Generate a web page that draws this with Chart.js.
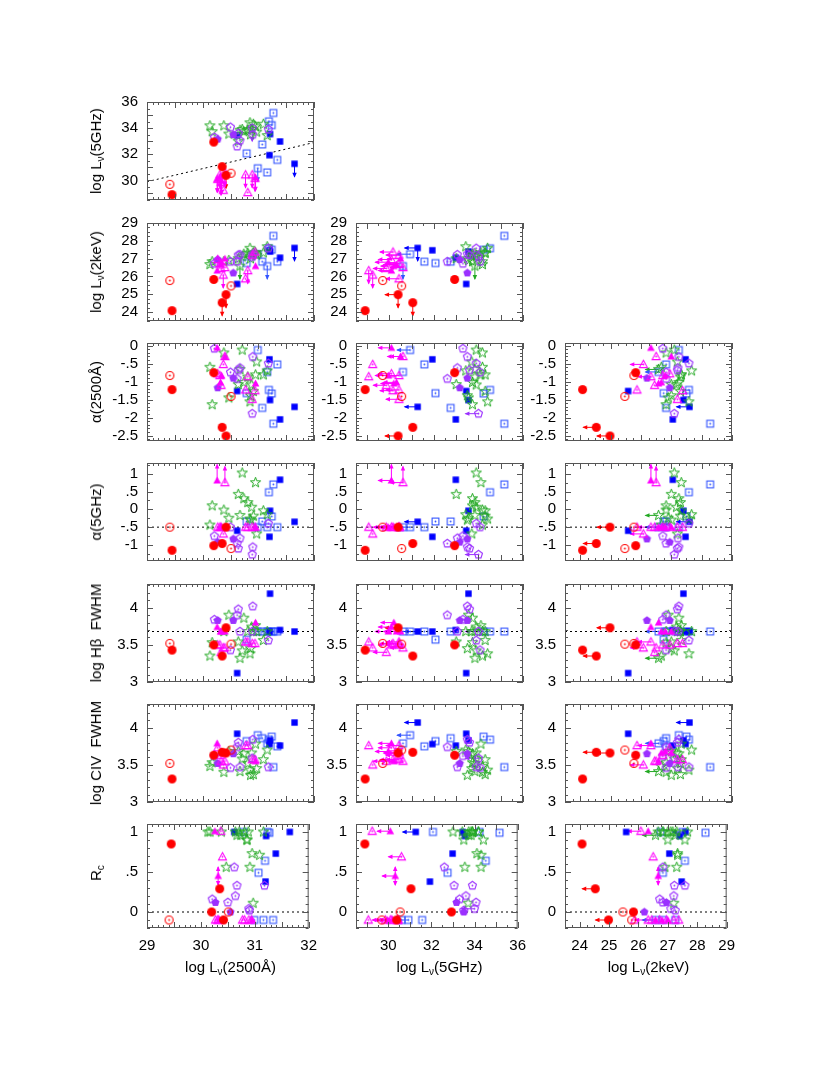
<!DOCTYPE html>
<html><head><meta charset="utf-8">
<script src="https://cdn.jsdelivr.net/npm/chart.js@4.4.0/dist/chart.umd.min.js"></script>
<style>
body{margin:0;background:#fff;width:830px;height:1075px;position:relative;overflow:hidden;font-family:"Liberation Sans",Arial,sans-serif;color:#000;}
canvas.pc{position:absolute;}
.yt{position:absolute;transform:translate(-50%,-50%) rotate(-90deg);white-space:nowrap;font-size:15px;line-height:16px;}
.xt{position:absolute;transform:translate(-50%,-50%);white-space:nowrap;font-size:15px;line-height:16px;}
sub{font-size:10px;vertical-align:-3px;line-height:0;}
</style></head>
<body>
<script>
// ---------------- DATA (one entry per object) ----------------
const cls = ['RF','RF','RF','RF','RO','RO',
 'MF','MF','MF','MF','MF',
 'MO','MO','MO','MO','MO','MO','MO','MO','MO',
 'PO','PO','PO','PO','PO','PO','PO','PO','PF','PF',
 'GS','GS','GS','GS','GS','GS','GS','GS','GS','GS','GS','GS','GS','GS','GS','GS','GS',
 'BO','BO','BO','BO','BO','BO','BO','BO',
 'BF','BF','BF','BF','BF'];
const L2500 = [29.45,30.20,30.35,30.42, 29.41,30.51,
 30.26,30.32,30.95,30.40,30.34,
 30.27,30.31,30.33,30.37,30.40,30.77,30.81,30.89,30.94,
 30.21,30.50,30.62,30.64,30.67,30.90,30.89,31.18, 30.27,30.55,
 30.13,30.17,30.38,30.47,30.64,30.67,30.71,30.74,30.81,30.85,30.88,30.91,30.95,30.97,30.86,31.09,31.16,
 30.79,30.99,31.07,31.16,31.19,31.24,31.27,31.34,
 30.62,31.20,31.21,31.39,31.65];
const L5 = [28.91,32.93,31.05,30.39, 29.70,30.55,
 30.09,30.32,30.20,30.50,29.95,
 30.09,30.43,29.86,29.25,30.61,30.43,29.07,30.43,30.16,
 33.30,34.07,32.60,33.60,33.05,33.50,34.00,33.90, 33.16,33.50,
 34.18,33.73,34.18,33.55,33.00,33.84,33.90,33.73,33.84,34.41,33.90,34.30,34.11,33.70,33.50,34.30,33.43,
 32.07,30.93,32.75,30.61,34.52,34.23,35.16,31.57,
 33.45,31.93,33.55,32.98,31.27];
const L2k = [24.08,25.83,24.53,24.98, 25.77,25.47,
 26.33,26.67,26.58,27.00,26.80,
 26.95,26.72,26.45,26.08,26.50,25.87,26.33,27.20,27.37,
 26.72,26.83,26.83,27.20,27.22,27.25,27.10,27.58, 26.95,26.20,
 26.67,26.83,26.83,26.90,27.00,26.58,27.10,27.25,27.30,27.58,27.17,27.30,27.33,27.20,27.00,27.33,27.67,
 26.75,27.25,26.83,26.58,27.58,27.50,28.28,26.83,
 25.58,27.47,27.40,27.05,27.60];
const a2500 = [-1.22,-0.75,-2.27,-2.51, -0.83,-1.41,
 -0.06,-1.02,-1.05,-0.30,-0.83,
 -0.78,-0.83,-1.10,-0.52,-0.30,-1.23,-0.86,-1.49,-1.25,
 -0.08,-0.74,-0.92,-0.68,-0.62,-0.31,-1.89,-0.49, -1.17,-0.90,
 -0.60,-1.64,-0.20,-1.45,-1.08,-0.66,-0.12,-1.02,-0.87,-1.56,-1.09,-1.27,-0.81,-0.45,-1.39,-0.81,-0.70,
 -1.32,-0.12,-1.73,-0.73,-1.23,-1.33,-2.17,-0.52,
 -1.26,-0.38,-1.51,-2.05,-1.70];
const a5 = [-1.15,-1.02,-0.96,-0.50, -0.50,-1.10,
 0.81,-0.50,-0.50,-0.50,-0.50,
 -0.50,-0.50,-0.50,-0.69,0.75,-0.50,-0.50,-0.50,-0.50,
 -0.75,-0.50,-0.96,-1.10,-0.81,-1.06,-1.27,-0.40, -0.92,-0.83,
 -0.44,0.10,-0.02,-0.25,0.42,-0.17,1.02,0.30,0.19,-0.27,0.06,-0.19,0.75,-0.69,-0.30,-0.04,-0.15,
 -0.34,-0.50,-0.34,-0.50,0.48,-0.20,0.70,-0.50,
 -0.60,-0.77,-0.04,0.83,-0.35];
const hb = [3.43,3.50,3.35,3.73, 3.52,3.51,
 3.74,3.68,3.80,3.68,3.68,
 3.50,3.50,3.40,3.46,3.46,3.54,3.54,3.52,3.52,
 3.84,3.43,3.90,3.98,3.68,4.02,3.68,3.56, 3.83,3.83,
 3.35,3.53,3.68,3.90,3.54,3.32,3.42,3.86,3.68,3.38,3.74,3.68,3.76,3.68,3.45,3.56,3.68,
 3.57,3.68,3.68,3.68,3.68,3.68,3.68,3.68,
 3.12,3.68,4.19,3.70,3.68];
const civ = [3.31,3.63,3.67,3.66, 3.52,3.70,
 3.79,3.66,3.55,3.66,3.68,
 3.73,3.63,3.55,3.50,3.55,3.76,3.76,3.57,3.57,
 3.62,3.46,3.74,3.80,3.47,3.84,3.59,3.47, 3.52,3.65,
 3.48,3.53,3.40,3.68,3.68,3.41,3.58,3.65,3.52,3.43,3.66,3.37,3.78,3.45,3.36,3.57,3.70,
 3.82,3.90,3.86,3.79,3.84,3.88,3.47,3.75,
 3.92,3.78,3.83,3.76,4.07];
const rc = [0.85,0.00,0.29,-0.10, -0.10,0.00,
 1.01,0.45,-0.10,-0.10,-0.10,
 -0.10,-0.10,-0.10,1.01,0.69,-0.10,-0.10,-0.10,-0.10,
 0.16,0.12,0.56,0.20,0.33,0.02,0.04,0.33, 0.12,0.00,
 1.00,1.00,1.00,0.56,1.00,0.96,1.00,0.96,1.00,0.90,1.00,0.56,0.73,0.11,0.90,0.71,1.00,
 1.00,-0.10,0.49,-0.10,0.64,1.00,0.99,-0.10,
 1.00,0.38,0.95,0.73,1.00];
// limit flags (1 = limit)
const L5lim = [0,0,0,1, 0,0, 1,1,1,1,1, 1,1,1,0,1,1,0,1,1, 0,0,0,0,0,0,1,0, 0,0,
 0,0,0,0,0,0,0,0,0,0,0,0,0,0,0,0,0, 0,1,0,0,0,0,0,0, 0,0,0,0,1];
const L2klim = [0,0,1,1, 0,0, 0,0,0,0,0, 0,0,0,1,0,0,1,0,0, 0,0,0,0,0,0,0,0, 0,0,
 0,0,0,0,0,1,0,0,0,0,0,0,0,0,0,0,0, 0,0,0,1,0,0,0,0, 0,0,0,0,1];
const a5low = [0,0,0,0, 0,0, 1,0,0,0,0, 0,0,0,0,1,0,0,0,0, 0,0,0,0,0,0,0,0, 0,0,
 0,0,0,0,0,0,0,0,0,0,0,0,0,0,0,0,0, 0,0,0,0,0,0,0,0, 0,0,0,0,0];
const rcBoth = [0,0,0,0, 0,0, 0,1,0,0,0, 0,0,0,0,0,0,0,0,0, 0,0,0,0,0,0,0,0, 0,0,
 0,0,0,0,0,0,0,0,0,0,0,0,0,0,0,0,0, 0,0,0,0,0,0,0,0, 0,0,0,0,0];
// reference lines
const refLineX = [29, 32], refLineY = [29.9, 32.9];   // L5GHz vs L2500 dividing line
const a5Ref = -0.5, hbRef = 3.68, rcRef = 0;
// axis ranges / tick labels
const rangeL2500 = [29, 32], ticksL2500 = 1;
const rangeL5 = [28.5, 36], ticksL5 = 2;
const rangeL2k = [23.5, 29], ticksL2k = 1;
const rangeA2500 = [-2.65, 0.075], ticksA2500 = 0.5;
const rangeA5 = [-1.45, 1.3], ticksA5 = 0.5;
const rangeFWHM = [3.0, 4.32], ticksFWHM = 0.5;
const rangeRc = [-0.2, 1.1], ticksRc = 0.5;

// ---------------- SETUP ----------------
const V = {L2500, L5, L2k, a2500, a5, hb, civ, rc};
const AX = {
 L2500:{r:rangeL2500, step:ticksL2500, major:0.5, minor:0.1},
 L5:{r:rangeL5, step:ticksL5, major:1, minor:0.5},
 L2k:{r:rangeL2k, step:ticksL2k, major:1, minor:0.25},
 a2500:{r:rangeA2500, step:ticksA2500, major:0.5, minor:0.1},
 a5:{r:rangeA5, step:ticksA5, major:0.5, minor:0.25},
 hb:{r:rangeFWHM, step:ticksFWHM, major:0.5, minor:0.1},
 civ:{r:rangeFWHM, step:ticksFWHM, major:0.5, minor:0.1},
 rc:{r:rangeRc, step:ticksRc, major:0.5, minor:0.1}
};
const HREF = {a5:a5Ref, hb:hbRef, rc:rcRef};
const UPPER = {L5:L5lim, L2k:L2klim};
const rowVars = ['L5','L2k','a2500','a5','hb','civ','rc'];
const colVars = ['L2500','L5','L2k'];
const rowTitles = ['log L<sub>ν</sub>(5GHz)','log L<sub>ν</sub>(2keV)','α(2500Å)','α(5GHz)','log Hβ&nbsp;&nbsp;FWHM','log CIV&nbsp;&nbsp;FWHM','R<sub>c</sub>'];
const colTitles = ['log L<sub>ν</sub>(2500Å)','log L<sub>ν</sub>(5GHz)','log L<sub>ν</sub>(2keV)'];

const ROW_TOP=[96,217,337,457,578,698,818], COL_LEFT=[147,356,565], PW=167, PH=110;
const PADL=62, PADT=12, PADR=12, PADB=12;

const COL = {RF:'#ff0000',RO:'#ff0000',MF:'#ff00ff',MO:'#ff00ff',PF:'#9b30ff',PO:'#9b30ff',GS:'#22a822',BF:'#0000ff',BO:'#3355ff'};
function shape(kind){
  const s=17, c=document.createElement('canvas'); c.width=s; c.height=s;
  const g=c.getContext('2d'), m=8.5, col=COL[kind];
  g.strokeStyle=col; g.fillStyle=col; g.lineWidth=1.1;
  const dot=()=>{g.beginPath();g.arc(m,m,0.9,0,7);g.fill();};
  const poly=(n,r,rot,inner)=>{g.beginPath();
    const k = inner? 2*n : n;
    for(let i=0;i<k;i++){const rr = inner && i%2 ? inner : r; const a=rot+i*2*Math.PI/k; const x=m+rr*Math.cos(a), y=m+rr*Math.sin(a); i?g.lineTo(x,y):g.moveTo(x,y);} g.closePath();};
  switch(kind){
    case 'RF': g.beginPath(); g.arc(m,m,4.5,0,7); g.fill(); break;
    case 'RO': g.beginPath(); g.arc(m,m,4,0,7); g.stroke(); dot(); break;
    case 'MF': g.beginPath(); g.moveTo(m,m-4); g.lineTo(m+3.8,m+3); g.lineTo(m-3.8,m+3); g.closePath(); g.fill(); break;
    case 'MO': g.beginPath(); g.moveTo(m,m-4.2); g.lineTo(m+4,m+3.1); g.lineTo(m-4,m+3.1); g.closePath(); g.stroke(); dot(); break;
    case 'PF': poly(5,4.3,-Math.PI/2); g.fill(); break;
    case 'PO': poly(5,4.2,-Math.PI/2); g.stroke(); dot(); break;
    case 'GS': g.lineWidth=1; poly(5,5.4,-Math.PI/2,2.2); g.stroke(); break;
    case 'BF': g.fillRect(m-3.2,m-3.2,6.4,6.4); break;
    case 'BO': g.strokeRect(m-3.4,m-3.4,6.8,6.8); dot(); break;
  }
  return c;
}
const ORDER = ['BO','BF','GS','PO','PF','MO','MF','RO','RF'];
const STY = {}; ORDER.forEach(k=>STY[k]=shape(k));

const fmt = v => { let s=(Math.round(v*100)/100).toString(); return s.replace(/^(-?)0\./,'$1.'); };

function arrow(ctx,x,y,dx,dy,col,L){
  const ex=x+dx*L, ey=y+dy*L;
  ctx.strokeStyle=col; ctx.fillStyle=col; ctx.lineWidth=1;
  ctx.beginPath(); ctx.moveTo(x,y); ctx.lineTo(ex,ey); ctx.stroke();
  const h=4, w=2.2;
  ctx.beginPath(); ctx.moveTo(ex+dx,ey+dy);
  ctx.lineTo(ex-dx*h+dy*w, ey-dy*h+dx*w); ctx.lineTo(ex-dx*h-dy*w, ey-dy*h-dx*w);
  ctx.closePath(); ctx.fill();
}

const deco = {
  id:'deco',
  beforeDatasetsDraw(chart,args,o){
    const ctx=chart.ctx, xs=chart.scales.x, ys=chart.scales.y, A=chart.chartArea;
    ctx.save(); ctx.beginPath(); ctx.rect(A.left,A.top,A.right-A.left,A.bottom-A.top); ctx.clip();
    const X=V[o.xv], Y=V[o.yv];
    for(let i=0;i<cls.length;i++){
      const px=xs.getPixelForValue(X[i]), py=ys.getPixelForValue(Y[i]), col=COL[cls[i]];
      if(UPPER[o.xv] && UPPER[o.xv][i]) arrow(ctx,px,py,-1,0,col,13);
      if(UPPER[o.yv] && UPPER[o.yv][i]) arrow(ctx,px,py,0,1,col,13);
      if(o.yv==='a5' && a5low[i]) arrow(ctx,px,py,0,-1,col,16);
      if(o.yv==='rc' && rcBoth[i]){arrow(ctx,px,py,0,-1,col,9);arrow(ctx,px,py,0,1,col,9);}
    }
    ctx.restore();
  },
  afterDraw(chart,args,o){
    const ctx=chart.ctx, xs=chart.scales.x, ys=chart.scales.y, A=chart.chartArea;
    ctx.save(); ctx.strokeStyle='#555'; ctx.lineWidth=1;
    ctx.strokeRect(A.left+0.5,A.top+0.5,A.right-A.left-1,A.bottom-A.top-1);
    const isMaj=(v,m)=>Math.abs(v/m-Math.round(v/m))<1e-6;
    ctx.beginPath();
    const xa=AX[o.xv];
    for(let k=Math.ceil(xa.r[0]/xa.minor-1e-6);k*xa.minor<=xa.r[1]+1e-9;k++){
      const v=k*xa.minor, p=Math.round(xs.getPixelForValue(v))+0.5, L=isMaj(v,xa.major)?6:3;
      ctx.moveTo(p,A.bottom); ctx.lineTo(p,A.bottom-L); ctx.moveTo(p,A.top); ctx.lineTo(p,A.top+L);
    }
    const ya=AX[o.yv];
    for(let k=Math.ceil(ya.r[0]/ya.minor-1e-6);k*ya.minor<=ya.r[1]+1e-9;k++){
      const v=k*ya.minor, p=Math.round(ys.getPixelForValue(v))+0.5, L=isMaj(v,ya.major)?6:3;
      ctx.moveTo(A.left,p); ctx.lineTo(A.left+L,p); ctx.moveTo(A.right,p); ctx.lineTo(A.right-L,p);
    }
    ctx.stroke(); ctx.restore();
  }
};

const FONT = {family:'"Liberation Sans", Arial, sans-serif', size:15};

for(let r=0;r<7;r++){
  for(let c=0;c<=Math.min(r,2);c++){
    const xv=colVars[c], yv=rowVars[r], bottom=(r===6);
    const XH = bottom?32:0;
    const cw=PADL+PW+PADR, ch=PADT+PH+XH+PADB;
    const cv=document.createElement('canvas'); cv.className='pc';
    cv.width=cw; cv.height=ch;
    cv.style.left=(COL_LEFT[c]-PADL)+'px'; cv.style.top=(ROW_TOP[r]-PADT)+'px';
    cv.style.width=cw+'px'; cv.style.height=ch+'px';
    document.body.appendChild(cv);
    const xa=AX[xv], ya=AX[yv];
    const datasets=[];
    if(HREF[yv]!==undefined){
      datasets.push({data:[{x:xa.r[0],y:HREF[yv]},{x:xa.r[1],y:HREF[yv]}],showLine:true,borderColor:'#000',borderWidth:1,borderDash:[2,3],pointRadius:0,order:5});
    }
    if(xv==='L2500' && yv==='L5'){
      datasets.push({data:[{x:refLineX[0],y:refLineY[0]},{x:refLineX[1],y:refLineY[1]}],showLine:true,borderColor:'#000',borderWidth:1,borderDash:[2,3],pointRadius:0,order:5});
    }
    ORDER.forEach((k,ki)=>{
      const pts=[];
      for(let i=0;i<cls.length;i++) if(cls[i]===k) pts.push({x:V[xv][i],y:V[yv][i]});
      datasets.push({label:k,data:pts,pointStyle:STY[k],pointRadius:5,showLine:false,order:-ki});
    });
    new Chart(cv,{
      type:'scatter',
      data:{datasets},
      options:{
        responsive:false, animation:false, devicePixelRatio:1,
        layout:{padding:{left:0,top:PADT,right:PADR,bottom:PADB}},
        plugins:{legend:{display:false},tooltip:{enabled:false},deco:{xv,yv}},
        scales:{
          x:{type:'linear',position:'bottom',min:xa.r[0],max:xa.r[1],
             grid:{display:false,drawTicks:false},border:{display:false},
             ticks:{display:bottom,stepSize:xa.step,includeBounds:false,autoSkip:false,maxRotation:0,padding:9,color:'#000',font:FONT,callback:v=>fmt(v)},
             afterFit:s=>{s.height=XH;}},
          y:{type:'linear',position:'left',min:ya.r[0],max:ya.r[1],
             grid:{display:false,drawTicks:false},border:{display:false},
             ticks:{stepSize:ya.step,includeBounds:false,autoSkip:false,padding:9,color:'#000',font:FONT,callback:v=>fmt(v)},
             afterFit:s=>{s.width=PADL;}}
        }
      },
      plugins:[deco]
    });
  }
  const t=document.createElement('div'); t.className='yt'; t.innerHTML=rowTitles[r];
  t.style.left='96px'; t.style.top=(ROW_TOP[r]+PH/2)+'px'; document.body.appendChild(t);
}
for(let c=0;c<3;c++){
  const t=document.createElement('div'); t.className='xt'; t.innerHTML=colTitles[c];
  t.style.left=(COL_LEFT[c]+PW/2)+'px'; t.style.top='967px'; document.body.appendChild(t);
}
</script>
</body></html>
